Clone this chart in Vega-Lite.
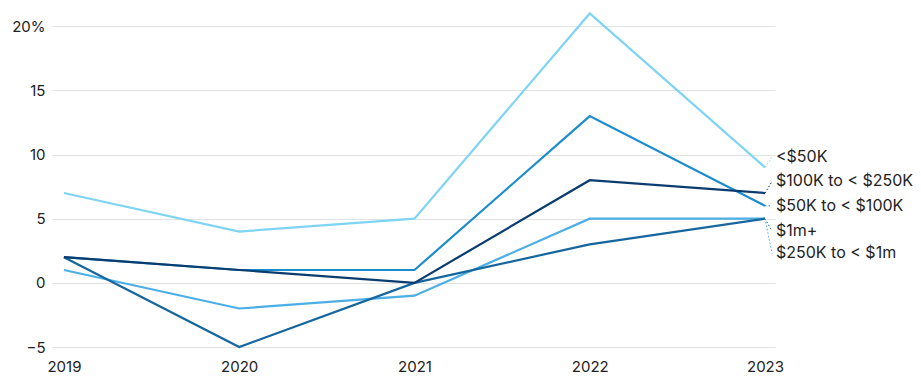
{
  "$schema": "https://vega.github.io/schema/vega-lite/v6.json",
  "autosize": "none",
  "width": 723,
  "height": 340,
  "padding": {"left": 52, "top": 7, "right": 146, "bottom": 40},
  "background": "white",
  "config": {"view": {"stroke": null}, "font": "Inter"},
  "datasets": {
    "series": [
      {"group": "<$50K", "year": 2019, "value": 7},
      {"group": "<$50K", "year": 2020, "value": 4},
      {"group": "<$50K", "year": 2021, "value": 5},
      {"group": "<$50K", "year": 2022, "value": 21},
      {"group": "<$50K", "year": 2023, "value": 9},
      {"group": "$50K to < $100K", "year": 2019, "value": 2},
      {"group": "$50K to < $100K", "year": 2020, "value": 1},
      {"group": "$50K to < $100K", "year": 2021, "value": 1},
      {"group": "$50K to < $100K", "year": 2022, "value": 13},
      {"group": "$50K to < $100K", "year": 2023, "value": 6},
      {"group": "$250K to < $1m", "year": 2019, "value": 1},
      {"group": "$250K to < $1m", "year": 2020, "value": -2},
      {"group": "$250K to < $1m", "year": 2021, "value": -1},
      {"group": "$250K to < $1m", "year": 2022, "value": 5},
      {"group": "$250K to < $1m", "year": 2023, "value": 5},
      {"group": "$1m+", "year": 2019, "value": 2},
      {"group": "$1m+", "year": 2020, "value": -5},
      {"group": "$1m+", "year": 2021, "value": 0},
      {"group": "$1m+", "year": 2022, "value": 3},
      {"group": "$1m+", "year": 2023, "value": 5},
      {"group": "$100K to < $250K", "year": 2019, "value": 2},
      {"group": "$100K to < $250K", "year": 2020, "value": 1},
      {"group": "$100K to < $250K", "year": 2021, "value": 0},
      {"group": "$100K to < $250K", "year": 2022, "value": 8},
      {"group": "$100K to < $250K", "year": 2023, "value": 7}
    ],
    "labels": [
      {"group": "<$50K", "year": 2023, "value": 9, "labelAt": 9.8},
      {"group": "$100K to < $250K", "year": 2023, "value": 7, "labelAt": 7.9},
      {"group": "$50K to < $100K", "year": 2023, "value": 6, "labelAt": 6.0},
      {"group": "$1m+", "year": 2023, "value": 5, "labelAt": 4.05},
      {"group": "$250K to < $1m", "year": 2023, "value": 5, "labelAt": 2.3}
    ]
  },
  "layer": [
    {
      "data": {"name": "series"},
      "mark": {"type": "line", "strokeWidth": 2.2, "clip": false},
      "encoding": {
        "x": {
          "field": "year", "type": "quantitative",
          "scale": {"domain": [2018.932, 2023.057], "nice": false, "zero": false},
          "axis": {
            "values": [2019, 2020, 2021, 2022, 2023], "format": "d",
            "title": null, "grid": false, "domain": false, "ticks": false,
            "labelFontSize": 15, "labelColor": "#222", "labelPadding": 12,
            "labelFont": "Inter"
          }
        },
        "y": {
          "field": "value", "type": "quantitative",
          "scale": {"domain": [-5, 21.5], "nice": false, "zero": false},
          "axis": {
            "values": [-5, 0, 5, 10, 15, 20],
            "labelExpr": "datum.value == 20 ? '20%' : (datum.value < 0 ? '−' + abs(datum.value) : datum.label)",
            "title": null, "domain": false, "ticks": false,
            "gridColor": "#e3e3e3", "gridWidth": 1,
            "labelFontSize": 15, "labelColor": "#222", "labelPadding": 7,
            "labelFont": "Inter"
          }
        },
        "color": {
          "field": "group", "type": "nominal", "legend": null,
          "scale": {
            "domain": ["<$50K", "$50K to < $100K", "$100K to < $250K", "$250K to < $1m", "$1m+"],
            "range": ["#7fd4f4", "#1b8ccc", "#0b3c70", "#4baee6", "#15669f"]
          }
        },
        "detail": {"field": "group"}
      }
    },
    {
      "mark": {"type": "rule", "color": "#000", "strokeWidth": 1},
      "encoding": {"y": {"datum": 0}}
    },
    {
      "data": {"name": "labels"},
      "mark": {"type": "rule", "strokeDash": [1.5, 2], "strokeWidth": 1, "clip": false},
      "encoding": {
        "x": {"field": "year", "type": "quantitative"},
        "x2": {"datum": 2023.04},
        "y": {"field": "value", "type": "quantitative"},
        "y2": {"field": "labelAt"},
        "color": {"field": "group", "type": "nominal", "legend": null}
      }
    },
    {
      "data": {"name": "labels"},
      "mark": {"type": "text", "align": "left", "baseline": "middle", "dx": 11, "fontSize": 16, "color": "#222", "font": "Inter"},
      "encoding": {
        "x": {"field": "year", "type": "quantitative"},
        "y": {"field": "labelAt", "type": "quantitative"},
        "text": {"field": "group"}
      }
    }
  ]
}
